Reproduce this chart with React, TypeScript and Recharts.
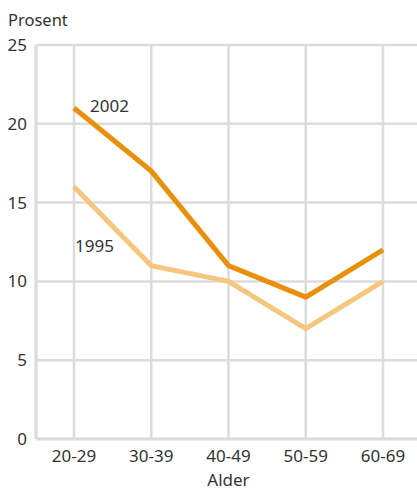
import { LineChart, Line, XAxis, YAxis, CartesianGrid, LabelList } from "recharts";

const ageGroups = ["20-29", "30-39", "40-49", "50-59", "60-69"];
const share2002 = [21, 17, 11, 9, 12];
const share1995 = [16, 11, 10, 7, 10];
const yTicks = [0, 5, 10, 15, 20, 25];

const data = ageGroups.map((age, i) => ({
  age,
  y2002: share2002[i],
  y1995: share1995[i],
}));

const FONT = "'Noto Sans', 'Open Sans', sans-serif";
const GRID = "#dcdcdc";
const TEXT = "#333333";
const FS = 17;

// eslint-disable-next-line @typescript-eslint/no-explicit-any
function seriesLabel(text: string, dx: number, dy: number) {
  return (props: any) => {
    if (props.index !== 0) return null;
    return (
      <text
        x={props.x + dx}
        y={props.y + dy}
        fill={TEXT}
        fontSize={FS}
        fontFamily={FONT}
        dominantBaseline="central"
      >
        {text}
      </text>
    );
  };
}

export default function App() {
  return (
    <div style={wrapStyle}>
      <div style={titleStyle}>Prosent</div>
      <LineChart
        width={421}
        height={489}
        data={data}
        margin={{ top: 45, right: 0, bottom: 0, left: 0 }}
      >
        <CartesianGrid stroke={GRID} strokeWidth={2.5} />
        <XAxis
          dataKey="age"
          padding={{ left: 38, right: 38 }}
          axisLine={{ stroke: GRID, strokeWidth: 3 }}
          tickLine={false}
          height={50}
          tick={{ fontSize: FS, fill: TEXT, fontFamily: FONT, dy: 3 }}
          label={{
            value: "Alder",
            position: "insideBottom",
            offset: 3,
            fontSize: FS,
            fill: TEXT,
            fontFamily: FONT,
          }}
        />
        <YAxis
          domain={[0, 25]}
          ticks={yTicks}
          width={36}
          axisLine={{ stroke: GRID, strokeWidth: 3 }}
          tickLine={false}
          tick={{ fontSize: FS, fill: TEXT, fontFamily: FONT, dx: -1 }}
        />
        <Line
          dataKey="y1995"
          stroke="#f5c67e"
          strokeWidth={5}
          dot={false}
          isAnimationActive={false}
          strokeLinejoin="miter"
        >
          <LabelList content={seriesLabel("1995", 1, 59)} />
        </Line>
        <Line
          dataKey="y2002"
          stroke="#e8900a"
          strokeWidth={5}
          dot={false}
          isAnimationActive={false}
          strokeLinejoin="miter"
        >
          <LabelList content={seriesLabel("2002", 16, -3)} />
        </Line>
      </LineChart>
    </div>
  );
}

const wrapStyle: React.CSSProperties = {
  position: "fixed",
  left: 0,
  top: 0,
  width: 417,
  height: 489,
  overflow: "hidden",
  background: "#ffffff",
};

const titleStyle: React.CSSProperties = {
  position: "absolute",
  left: 8,
  top: 10,
  fontSize: 16.5,
  color: TEXT,
  fontFamily: FONT,
  lineHeight: "20px",
};
